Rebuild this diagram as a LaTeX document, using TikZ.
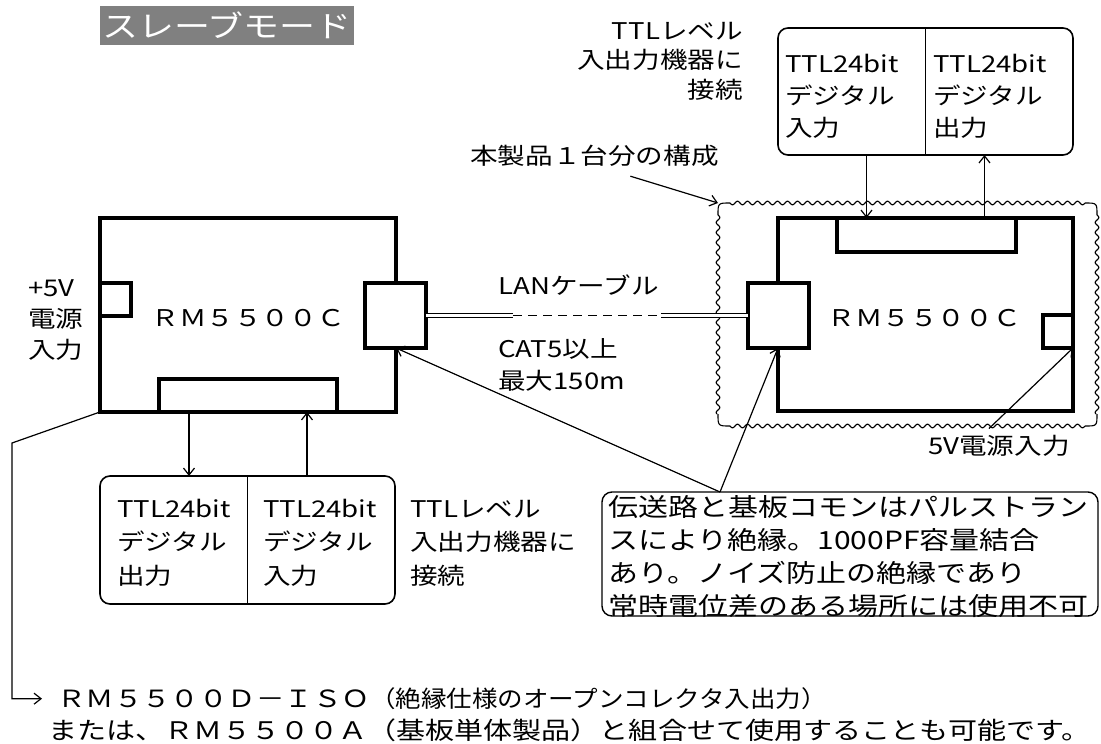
\documentclass[tikz,border=0pt]{standalone}
\usepackage{fontspec}
\newfontfamily\jp{Noto Sans CJK JP}[FakeStretch=1.2]
\newfontfamily\jpnarrow{Noto Sans CJK JP}[FakeStretch=1.1]
\usetikzlibrary{arrows.meta,calc}

\begin{document}
\begin{tikzpicture}[x=1pt,y=-1pt,
    board/.style={draw, line width=3.6pt, inner sep=0pt, outer sep=0pt},
    port/.style={draw, line width=3.6pt, fill=white, inner sep=0pt, outer sep=0pt},
    iobox/.style={draw, line width=1.6pt, rounded corners=10pt, inner sep=0pt, outer sep=0pt},
    txt/.style={inner sep=0pt, align=left, anchor=base west, font=\jp\fontsize{23}{33}\selectfont},
    wire/.style={line width=1.2pt},
    wavy/.style={line width=1.1pt, smooth},
    cable/.style={line width=1pt, double=white, double distance=2.6pt}]
  \useasboundingbox (0,0) rectangle (1101,744);

  % title
  \node[fill=gray, text=white, inner sep=0pt, minimum width=254pt, minimum height=39pt,
        font=\jp\fontsize{30}{36}\selectfont] (title) at (227,25.5) {スレーブモード};

  % one unit (wavy outline)
  \node[inner sep=0pt, outer sep=0pt, minimum width=379pt, minimum height=223pt] (unit) at (907.5,314.5) {};
  \draw[wavy] plot[domain=730:1085, samples=356] (\x,{203+1.8*sin(36*(\x-730))});
  \draw[wavy] plot[domain=730:1085, samples=356] (\x,{426+1.8*sin(36*(\x-730))});
  \draw[wavy] plot[domain=215:414, samples=200] ({718+1.8*sin(36*(\x-215))},\x);
  \draw[wavy] plot[domain=215:414, samples=200] ({1097+1.8*sin(36*(\x-215))},\x);
  \draw[line width=1.1pt] (718,215) .. controls (718,203) .. (730,203);
  \draw[line width=1.1pt] (1085,203) .. controls (1097,203) .. (1097,215);
  \draw[line width=1.1pt] (1097,414) .. controls (1097,426) .. (1085,426);
  \draw[line width=1.1pt] (730,426) .. controls (718,426) .. (718,414);

  % left board
  \node[board, minimum width=296pt, minimum height=194pt] (lbox) at (248,315) {};
  \node[port, minimum width=31pt, minimum height=33pt] (lpwr) at (115.5,299.5) {};
  \node[port, minimum width=61pt, minimum height=65pt] (ljack) at (395.5,315.5) {};
  \node[port, minimum width=178pt, minimum height=33pt] (lcon) at (248,395.5) {};
  \node[inner sep=0pt, font=\jp\fontsize{23}{33}\selectfont] (lname) at (248,318) {ＲＭ５５００Ｃ};

  % right board
  \node[board, minimum width=295pt, minimum height=193pt] (rbox) at (925.5,314.5) {};
  \node[port, minimum width=179pt, minimum height=34pt] (rcon) at (926.5,235) {};
  \node[port, minimum width=61pt, minimum height=65pt] (rjack) at (778.5,315.5) {};
  \node[port, minimum width=30pt, minimum height=33pt] (rpwr) at (1058,331.5) {};
  \node[inner sep=0pt, font=\jp\fontsize{23}{33}\selectfont] (rname) at (924,318) {ＲＭ５５００Ｃ};

  % io boxes
  \node[iobox, minimum width=295pt, minimum height=127pt] (topio) at (925.5,91.5) {};
  \draw[line width=1.6pt] (topio.north) -- (topio.south);
  \node[txt, font=\jp\fontsize{23}{32}\selectfont] (tin) at (785,136) {TTL24bit\\デジタル\\入力};
  \node[txt, font=\jp\fontsize{23}{32}\selectfont] (tout) at (933,136) {TTL24bit\\デジタル\\出力};

  \node[iobox, minimum width=295pt, minimum height=128pt] (lio) at (247.5,540) {};
  \draw[line width=1.6pt] (lio.north) -- (lio.south);
  \node[txt, font=\jp\fontsize{23}{33.5}\selectfont] (lout) at (117,584) {TTL24bit\\デジタル\\出力};
  \node[txt, font=\jp\fontsize{23}{33.5}\selectfont] (lin) at (263,584) {TTL24bit\\デジタル\\入力};

  % io arrows
  \draw[wire,->,>={Straight Barb[length=7pt,width=11pt]}] ([xshift=-59pt]topio.south) -- ([xshift=-59pt]topio.south |- rcon.north);
  \draw[wire,->,>={Straight Barb[length=7pt,width=11pt]}] ([xshift=59pt]topio.south |- rcon.north) -- ([xshift=59pt]topio.south);
  \draw[wire,->,>={Straight Barb[length=7pt,width=11pt]}] ([xshift=-59pt]lcon.south) -- ([xshift=-59pt]lcon.south |- lio.north);
  \draw[wire,->,>={Straight Barb[length=7pt,width=11pt]}] ([xshift=59pt]lcon.south |- lio.north) -- ([xshift=59pt]lcon.south);

  % lan cable
  \coordinate (cabL) at (513,315.5);
  \coordinate (cabR) at (661,315.5);
  \draw[cable] (ljack.east) -- (cabL);
  \draw[wire, dash pattern=on 9pt off 6pt] (cabL) -- (cabR);
  \draw[cable] (cabR) -- (rjack.west);
  \node[txt] (lan) at (498,294) {LANケーブル};
  \node[txt, font=\jp\fontsize{23}{32}\selectfont] (cat) at (498,389) {CAT5以上\\最大150m};

  % labels
  \node[txt, font=\jp\fontsize{23}{31}\selectfont] (pin) at (28,358) {+5V\\電源\\入力};
  \node[txt, align=right, anchor=base east, font=\jp\fontsize{23}{29.5}\selectfont] (ttltop) at (743,98) {TTLレベル\\入出力機器に\\接続};
  \node[txt, font=\jp\fontsize{23}{33.5}\selectfont] (ttlbot) at (410,584) {TTLレベル\\入出力機器に\\接続};
  \node[txt] (cfg) at (470,164) {本製品１台分の構成};
  \node[txt] (pwrlbl) at (928,454) {5V電源入力};
  \draw[wire,->,>={Straight Barb[length=7pt,width=11pt]}] ($(cfg.south)+(36,10)$) -- (unit.north west);
  \draw[wire,->,>={Straight Barb[length=7pt,width=11pt]}] ($(pwrlbl.north)+(-10,-6)$) -- (rpwr.south east);

  % note
  \node[iobox, line width=1.4pt, minimum width=496pt, minimum height=124pt] (note) at (850,554) {};
  \node[txt, font=\jp\fontsize{25}{33}\selectfont] (notetxt) at (608,615)
    {伝送路と基板コモンはパルストラン\\スにより絶縁。1000PF容量結合\\あり。ノイズ防止の絶縁であり\\常時電位差のある場所には使用不可};
  \coordinate (ntip) at ([xshift=118pt]note.north west);
  \draw[wire,->,>={Straight Barb[length=7pt,width=11pt]}] (ntip) -- (ljack.south -| lbox.east);
  \draw[wire,->,>={Straight Barb[length=7pt,width=11pt]}] (ntip) -- (rjack.south -| rbox.west);

  % other boards
  \node[txt, font=\jp\fontsize{23.7}{33}\selectfont] (rmd) at (57,707.5)
    {ＲＭ５５００Ｄ－ＩＳＯ{\jpnarrow\fontsize{23.2}{33}\selectfont（絶縁仕様のオープンコレクタ入出力）}};
  \node[txt, font=\jp\fontsize{24.2}{33}\selectfont] (rma) at (48,739.5)
    {または、ＲＭ５５００Ａ（基板単体製品）と組合せて使用することも可能です。};
  \draw[wire,->,>={Straight Barb[length=7pt,width=11pt]}] (lbox.south west) -- (12,443) |- ([xshift=-15pt]rmd.west);
\end{tikzpicture}
\end{document}
